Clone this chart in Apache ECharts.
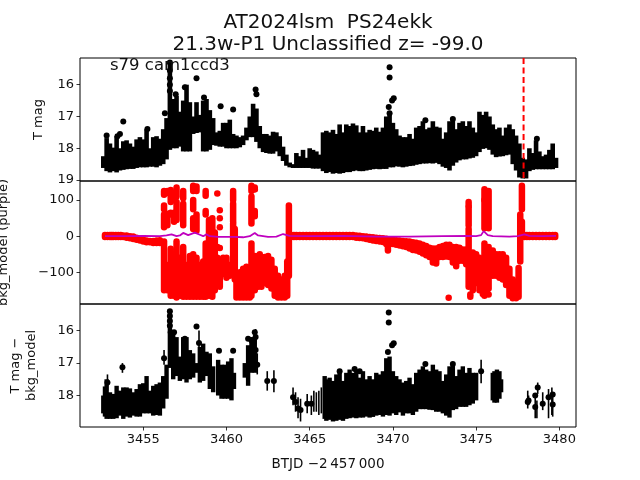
<!DOCTYPE html>
<html><head><meta charset="utf-8">
<style>html,body{margin:0;padding:0;background:#fff}#c{width:640px;height:480px}</style>
<script src="https://cdn.jsdelivr.net/npm/echarts@6/dist/echarts.min.js"></script>
</head><body><div id="c"></div>
<script>
const xTicks=[3455,3460,3465,3470,3475,3480];
const magTicks=[16,17,18,19];
const midTicks=[100,0,-100];
const bottomTicks=[16,17,18];
const eventT=[3477.85,3477.85];
const eventY=[15.16,19.03];

const topT=[3452.6,3452.8,3453.0,3453.2,3453.4,3453.6,3453.8,3454.0,3454.2,3454.4,3454.6,3454.8,3455.0,3455.2,3455.4,3455.6,3455.8,3456.0,3456.2,3456.4,3456.6,3456.8,3457.0,3457.2,3457.4,3457.6,3457.8,3458.0,3458.2,3458.4,3458.6,3458.8,3459.0,3459.2,3459.4,3459.6,3459.8,3460.0,3460.2,3460.4,3460.6,3460.8,3461.0,3461.2,3461.4,3461.6,3461.8,3462.0,3462.2,3462.4,3462.6,3462.8,3463.0,3463.2,3463.4,3463.6,3463.8,3464.0,3464.2,3464.4,3464.6,3464.8,3465.0,3465.2,3465.4,3465.6,3465.8,3466.0,3466.2,3466.4,3466.6,3466.8,3467.0,3467.2,3467.4,3467.6,3467.8,3468.0,3468.2,3468.4,3468.6,3468.8,3469.0,3469.2,3469.4,3469.6,3469.8,3470.0,3470.2,3470.4,3470.6,3470.8,3471.0,3471.2,3471.4,3471.6,3471.8,3472.0,3472.2,3472.4,3472.6,3472.8,3473.0,3473.2,3473.4,3473.6,3473.8,3474.0,3474.2,3474.4,3474.6,3474.8,3475.0,3475.2,3475.4,3475.6,3475.8,3476.0,3476.2,3476.4,3476.6,3476.8,3477.0,3477.2,3477.4,3477.6,3477.8,3478.0,3478.2,3478.4,3478.6,3478.8,3479.0,3479.2,3479.4,3479.6,3479.8];
const topHi=[18.25,17.68,17.85,17.98,17.62,18.0,17.78,17.75,17.85,17.95,17.72,17.65,17.72,17.4,18.0,17.65,17.62,17.7,17.4,17.05,15.3,16.45,16.35,16.85,16.5,16.0,16.55,17.0,16.55,16.95,16.5,16.45,16.8,17.05,17.5,17.45,17.2,17.2,17.1,17.55,17.6,17.65,17.6,17.35,17.0,16.6,16.75,17.3,17.55,17.55,17.6,17.48,17.5,17.62,17.95,18.2,18.45,18.5,18.15,18.25,18.05,18.3,18.0,18.05,18.1,18.2,17.5,17.45,17.5,17.42,17.55,17.25,17.5,17.25,17.3,17.22,17.28,17.5,17.3,17.5,17.42,17.45,17.35,17.48,17.35,17.0,16.9,17.2,17.4,17.6,17.65,17.65,17.55,17.7,17.35,17.3,17.15,17.4,17.35,17.15,17.32,17.35,17.7,17.5,17.15,17.05,17.4,17.2,17.15,17.3,17.15,17.35,17.5,16.85,16.95,16.85,17.0,17.25,17.4,17.35,17.6,17.35,17.25,17.4,17.6,17.85,18.3,18.35,18.0,18.15,17.75,18.1,18.25,18.2,18.05,17.85,18.3];
const topLo=[18.62,18.72,18.76,18.72,18.76,18.7,18.68,18.66,18.65,18.65,18.62,18.6,18.6,18.6,18.58,18.58,18.6,18.55,18.5,18.35,18.05,18.0,18.0,17.95,18.1,18.1,18.1,17.55,17.52,17.5,18.1,18.1,18.05,17.9,17.92,17.95,17.95,18.0,18.0,18.0,18.0,17.97,17.9,17.75,17.65,17.65,17.8,18.0,18.12,18.15,18.17,18.17,18.1,18.25,18.4,18.55,18.6,18.62,18.62,18.62,18.62,18.62,18.62,18.64,18.64,18.64,18.72,18.78,18.75,18.8,18.78,18.8,18.78,18.75,18.75,18.72,18.7,18.72,18.72,18.7,18.68,18.66,18.65,18.66,18.65,18.65,18.6,18.6,18.57,18.58,18.6,18.58,18.56,18.55,18.52,18.5,18.48,18.48,18.47,18.48,18.46,18.5,18.58,18.62,18.7,18.55,18.45,18.38,18.35,18.35,18.32,18.3,18.25,18.12,18.02,18.0,18.05,18.2,18.28,18.26,18.25,18.22,18.2,18.5,18.7,18.92,18.95,18.95,18.72,18.68,18.66,18.66,18.66,18.66,18.66,18.66,18.62];
const topDotT=[3453.8,3452.8,3453.45,3453.6,3455.25,3456.3,3456.6,3456.6,3456.6,3456.6,3456.6,3456.95,3457.5,3458.2,3458.65,3459.65,3460.4,3461.75,3461.8,3469.8,3469.8,3470.05,3469.95,3469.75,3469.8,3471.95,3473.6,3478.65];
const topDotY=[17.16,17.6,17.62,17.55,17.39,16.9,15.3,15.55,15.8,16.0,16.2,16.3,16.08,15.8,16.4,16.68,16.78,16.15,16.3,15.45,15.77,16.43,16.5,16.7,16.9,17.12,17.08,17.7];

const midT=[3452.7,3453.0,3453.2,3453.5,3453.8,3454.0,3454.2,3454.4,3454.6,3454.8,3455.0,3455.2,3455.4,3455.6,3455.8,3456.0,
3456.25,3456.25,3456.25,3456.25,3456.45,3456.45,3456.45,3456.65,3456.65,3456.65,3456.85,3456.85,3456.85,3457.0,3457.0,3457.0,3457.0,3457.2,3457.4,3457.4,3457.4,3457.6,3457.8,3458.0,3458.0,3458.0,3458.0,3458.2,3458.2,3458.2,3458.4,3458.6,3458.75,3458.75,3458.75,3458.95,3459.15,3459.3,3459.45,3459.6,3459.8,3460.0,3460.2,3460.4,3460.4,3460.4,3460.5,3460.6,3460.8,3461.0,3461.2,3461.4,3461.5,3461.5,3461.5,3461.7,3461.7,3461.7,3461.9,3462.1,3462.3,3462.5,3462.7,3462.9,3463.1,3463.3,3463.5,3463.65,3463.75,
3463.9,3464.2,3464.6,3465.0,3465.4,3465.8,3466.2,3466.6,3467.0,3467.4,3467.8,3468.2,3468.6,3469.0,3469.4,3469.6,3469.7,3469.8,3470.0,3470.4,3470.8,3471.2,3471.6,3472.0,3472.2,3472.4,3472.6,3472.8,3473.0,3473.2,3473.4,3473.6,3473.8,3474.0,3474.2,3474.4,
3474.55,3474.55,3474.55,3474.65,3474.8,3475.0,3475.2,3475.4,3475.5,3475.5,3475.5,3475.5,3475.65,3475.75,3475.75,3476.0,3476.2,3476.4,3476.6,3476.8,3477.0,3477.2,3477.4,3477.55,3477.65,3477.75,3477.75,
3477.9,3478.2,3478.6,3479.0,3479.4,3479.75];
const midHi=[3,3,3,3,2,2,0,-1,-4,-7,-10,-12,-13,-13,-12,-11,
125,85,60,-15,125,62,-80,128,65,-35,120,65,-50,135,95,-15,-100,-60,125,90,-30,-80,-55,140,100,50,-50,138,60,-60,-80,-70,125,70,-20,45,50,10,-60,-65,-60,-60,-80,125,90,35,20,-105,-100,-90,-85,-100,140,110,-20,135,70,-55,-55,-60,-58,-55,-65,-90,-110,-120,-110,-70,85,
3,3,3,3,3,3,3,3,3,3,2,0,-2,-4,-6,-7,-10,-10,-10,-12,-14,-17,-20,-27,-32,-34,-34,-30,-27,-24,-24,-30,-30,-32,-37,-37,
95,80,20,-100,-45,-50,-60,-70,130,100,-20,-60,-50,125,-30,-40,-50,-50,-50,-60,-90,-120,-130,-88,60,140,40,
3,3,3,3,3,3];
const midLo=[-2,-2,-2,-2,-2,-4,-6,-8,-10,-12,-15,-17,-17,-19,-19,-19,
115,75,25,-150,120,30,-150,95,60,-165,100,40,-165,110,45,-70,-170,-165,105,30,-168,-168,-168,125,75,20,-168,125,15,-168,-168,-168,112,60,-168,-165,-168,-150,-130,-140,-105,-115,-110,100,40,-105,-120,-170,-170,-170,-170,-170,125,35,-165,130,55,-150,-140,-140,-130,-135,-145,-165,-170,-170,-170,-165,-110,
-2,-2,-2,-2,-2,-2,-2,-2,-2,-2,-4,-6,-10,-13,-16,-22,-40,-22,-22,-26,-30,-38,-43,-53,-58,-73,-76,-58,-58,-56,-58,-73,-83,-68,-68,-78,
85,30,-140,-130,-150,-130,-150,-160,100,22,-50,-165,-150,22,-145,-110,-110,-115,-120,-135,-165,-172,-172,-168,-70,75,10,
-2,-2,-2,-2,-2,-2];
const midBaseT=[3452.85,3453.1,3453.35,3453.65,3464.05,3464.4,3464.8,3465.2,3465.6,3466.0,3466.4,3466.8,3467.2,3467.6,3468.0,3468.4,3468.8,3469.2,3470.2,3470.6,3471.0,3471.4,3471.8,3478.05,3478.4,3478.8,3479.2,3479.6];
const midBaseHi=[3,3,3,3,3,3,3,3,3,3,3,3,3,3,1,-1,-3,-5,-11,-13,-15,-18,-24,3,3,3,3,3];
const midBaseLo=[-2,-2,-2,-2,-2,-2,-2,-2,-2,-2,-2,-2,-2,-2,-5,-8,-12,-15,-24,-28,-34,-40,-48,-2,-2,-2,-2,-2];
const midDotT=[3459.45,3459.45,3459.6,3459.6,3459.6,3459.6,3461.7,3461.7,3473.35,3474.65,3474.65,3475.75,3462.0];
const midDotY=[118,-30,72,50,25,-33,130,60,-171,-162,-168,-162,-50];

const purpleT=[3452.7,3454,3455,3456,3456.4,3456.7,3457.0,3457.2,3457.4,3457.7,3458.1,3458.4,3458.6,3458.8,3459.0,3459.5,3460.5,3461.0,3461.4,3461.7,3461.9,3462.5,3463.0,3463.4,3463.8,3465,3467,3469,3471,3473,3474.5,3475.0,3475.3,3475.45,3475.7,3476,3477,3477.5,3477.9,3478.2,3479,3479.8];
const purpleY=[0,0,1,0,2,5,0,2,9,3,10,4,0,5,0,-2,-2,-3,0,9,2,-2,-1,6,1,0,1,-1,-1,0,1,0,3,14,3,0,-1,0,5,1,0,1];

const botT=[3452.6,3452.7,3452.8,3453.0,3453.2,3453.4,3453.6,3453.8,3454.0,3454.2,3454.4,3454.6,3454.8,3455.0,3455.2,3455.4,3455.6,3455.8,3456.0,3456.2,3456.4,3456.6,3456.8,3457.0,3457.2,3457.4,3457.6,3457.8,3458.0,3458.2,3458.4,3458.6,3458.8,3459.0,3459.2,3459.5,3459.7,3459.9,3460.1,3460.3,3460.45,3461.1,3461.3,3461.5,3461.7,
3465.9,3466.0,3466.2,3466.4,3466.6,3466.8,3467.0,3467.2,3467.4,3467.6,3467.8,3468.0,3468.2,3468.4,3468.6,3468.8,3469.0,3469.2,3469.4,3469.6,3469.8,3470.0,3470.2,3470.4,3470.6,3470.8,3471.0,3471.2,3471.4,3471.6,3471.8,3472.0,3472.2,3472.4,3472.6,3472.8,3473.0,3473.2,3473.4,3473.6,3473.8,3474.0,3474.2,3474.4,3474.6,3474.8,3475.0,3476.0,3476.1,3476.25,3476.4,3476.5];
const botHi=[18.0,17.72,17.5,17.9,17.95,17.7,17.85,17.75,17.75,17.78,17.9,17.8,17.65,17.62,17.4,17.85,17.7,17.65,17.6,17.4,17.05,15.35,16.05,16.2,16.8,16.2,16.2,16.6,16.7,17.0,16.5,16.4,16.65,16.7,17.1,16.9,17.05,17.05,16.95,16.85,17.3,17.0,16.45,16.2,16.25,
17.4,17.5,17.45,17.55,17.35,17.22,17.55,17.3,17.2,17.3,17.2,17.45,17.25,17.5,17.4,17.5,17.3,17.35,17.25,16.85,16.8,17.25,17.4,17.5,17.6,17.55,17.45,17.65,17.3,17.2,17.1,17.2,17.25,17.05,17.2,17.25,17.55,17.35,17.1,17.05,17.4,17.2,17.1,17.3,17.15,17.3,17.3,17.3,17.25,17.2,17.25,17.5];
const botLo=[18.55,18.65,18.72,18.72,18.72,18.7,18.62,18.72,18.65,18.68,18.62,18.65,18.65,18.55,18.55,18.55,18.62,18.6,18.62,18.4,18.1,17.15,17.5,17.4,17.55,17.5,17.6,17.5,17.45,17.3,17.6,17.55,17.4,17.8,17.9,18.0,18.1,18.1,18.1,18.15,17.8,17.45,17.7,17.3,17.3,
18.72,18.78,18.75,18.8,18.78,18.75,18.78,18.72,18.7,18.68,18.7,18.68,18.68,18.65,18.68,18.66,18.62,18.6,18.65,18.6,18.62,18.55,18.6,18.52,18.62,18.55,18.55,18.6,18.5,18.42,18.42,18.42,18.44,18.45,18.5,18.5,18.55,18.62,18.68,18.45,18.42,18.35,18.35,18.35,18.3,18.25,18.15,18.15,18.22,18.22,18.1,17.9];
const botBarT=[3452.85,3453.75,3456.25,3458.35,3461.75,3461.85,3462.45,3462.85,3464.0,3464.15,3464.3,3464.45,3464.85,3465.1,3465.25,3465.4,3465.55,3465.7,3475.3,3478.1,3478.15,3478.55,3478.7,3478.65,3479.0,3479.35,3479.55,3479.6];
const botBarHi=[17.35,17.0,16.6,16.0,15.95,16.7,17.25,17.22,17.75,17.9,18.05,18.1,17.95,18.0,17.85,17.9,17.85,17.75,16.9,17.85,18.0,17.95,17.6,18.15,17.9,17.8,17.75,17.95];
const botBarLo=[17.85,17.3,17.05,16.7,16.4,17.35,17.85,17.9,18.3,18.5,18.7,18.8,18.55,18.6,18.5,18.5,18.6,18.55,17.62,18.4,18.3,18.7,17.95,18.7,18.45,18.7,18.6,18.65];
const botDotT=[3452.85,3453.75,3456.25,3456.6,3456.6,3456.6,3456.6,3456.65,3456.85,3457.5,3458.2,3458.35,3459.55,3460.4,3461.3,3461.5,3461.7,3461.75,3461.75,3461.85,3462.45,3462.85,3464.0,3464.15,3464.3,3464.45,3464.85,3465.1,3469.75,3469.75,3470.05,3469.95,3469.7,3475.3,3478.1,3478.15,3478.55,3478.55,3478.7,3479.0,3479.35,3479.6,3479.6,3466.8,3467.7,3468.0,3471.95,3473.6];
const botDotY=[17.6,17.13,16.85,15.4,15.55,15.7,15.85,16.05,16.05,16.25,15.87,16.38,16.62,16.62,16.25,16.3,16.05,16.2,16.6,17.05,17.55,17.55,18.05,18.2,18.4,18.45,18.25,18.25,15.44,15.75,16.39,16.45,16.66,17.25,18.2,18.15,18.0,18.35,17.75,18.25,18.05,17.97,18.28,17.25,17.18,17.25,17.03,17.03];

const BLACK='#000', RED='#ff0000', PURPLE='#bf00bf';
function zip(a,b,c){return a.map((v,i)=>c?[v,b[i],c[i]]:[v,b[i]]);}
function bars(g,T,H,L,color,w,cap,z){
  return {type:'custom',xAxisIndex:g,yAxisIndex:g,clip:true,silent:true,z:z||2,
    data:zip(T,H,L),encode:{x:0,y:[1,2]},
    renderItem:(p,api)=>{
      const a=api.coord([api.value(0),api.value(1)]),b=api.coord([api.value(0),api.value(2)]);
      return {type:'line',shape:{x1:a[0],y1:a[1],x2:b[0],y2:b[1]},style:{stroke:color,lineWidth:w,lineCap:cap,fill:null}};
    }};
}
function dots(g,T,Y,color,size,z){
  return {type:'scatter',xAxisIndex:g,yAxisIndex:g,clip:true,silent:true,z:z||3,symbol:'circle',symbolSize:size,
    itemStyle:{color:color,opacity:1},data:zip(T,Y)};
}
const font='"DejaVu Sans"';
const gr=[{top:58,height:123},{top:181,height:123},{top:304,height:123}].map(o=>({left:80,width:496,top:o.top,height:o.height,show:true,borderColor:'#000',borderWidth:1,backgroundColor:'transparent',containLabel:false,outerBoundsMode:'none'}));
function xa(i){const last=i===2;return {type:'value',gridIndex:i,min:3451.2,max:3481,splitLine:{show:false},
  axisLine:{show:false},axisTick:{show:last,length:3.5,lineStyle:{color:'#000',width:0.8},customValues:xTicks},
  axisLabel:{show:last,customValues:xTicks,align:'center',color:'#111',fontFamily:font,fontSize:13,margin:6,formatter:v=>String(v)},
  name:last?'BTJD \u22122\u2009457\u2009000':'',nameLocation:'middle',nameGap:30,nameTextStyle:{color:'#111',fontFamily:font,fontSize:13.5}};}
function ya(i,min,max,inv,ticks,name,gap){return {type:'value',gridIndex:i,min,max,inverse:inv,splitLine:{show:false},
  axisLine:{show:false},axisTick:{show:true,length:3.5,lineStyle:{color:'#000',width:0.8},customValues:ticks},
  axisLabel:{customValues:ticks,color:'#111',fontFamily:font,fontSize:13,margin:6,formatter:v=>String(v).replace('-','\u2212')},
  name,nameLocation:'middle',nameGap:gap,nameRotate:90,nameTextStyle:{color:'#111',fontFamily:font,fontSize:13,lineHeight:16,align:'center'}};}
const chart=echarts.init(document.getElementById('c'),null,{renderer:'canvas'});
chart.setOption({animation:false,backgroundColor:'#fff',
  title:[
    {text:'AT2024lsm  PS24ekk',left:323,top:8,textAlign:'center',textStyle:{fontFamily:font,fontSize:20,fontWeight:'normal',color:'#111'}},
    {text:'21.3w-P1 Unclassified z= -99.0',left:323,top:30,textAlign:'center',textStyle:{fontFamily:font,fontSize:20,fontWeight:'normal',color:'#111'}},
    {text:'s79 cam1ccd3',left:105,top:52,z:20,textStyle:{fontFamily:font,fontSize:16.5,fontWeight:'normal',color:'#111'}}
  ],
  grid:gr,
  xAxis:[xa(0),xa(1),xa(2)],
  yAxis:[ya(0,15.16,19.03,true,magTicks,'T mag',33),ya(1,-188,153,false,midTicks,'Bkg (red)/\nbkg_model (purple)',68),ya(2,15.18,18.97,true,bottomTicks,'T mag \u2212\nbkg_model',40)],
  series:[
    bars(0,topT,topHi,topLo,BLACK,4.6,'butt'),
    dots(0,topDotT,topDotY,BLACK,6),
    {type:'line',xAxisIndex:0,yAxisIndex:0,silent:true,z:6,symbol:'none',data:zip(eventT,eventY),lineStyle:{color:RED,width:2,type:[6,3.5]}},
    bars(1,midT,midHi,midLo,RED,6.5,'round'),
    bars(1,midBaseT,midBaseHi,midBaseLo,RED,6.5,'round'),
    dots(1,midDotT,midDotY,RED,6.5),
    {type:'line',xAxisIndex:1,yAxisIndex:1,silent:true,z:6,symbol:'none',data:zip(purpleT,purpleY),lineStyle:{color:PURPLE,width:1.8}},
    bars(2,botT,botHi,botLo,BLACK,4.4,'butt'),
    bars(2,botBarT,botBarHi,botBarLo,BLACK,1.6,'butt'),
    dots(2,botDotT,botDotY,BLACK,6)
  ]
});
</script></body></html>
